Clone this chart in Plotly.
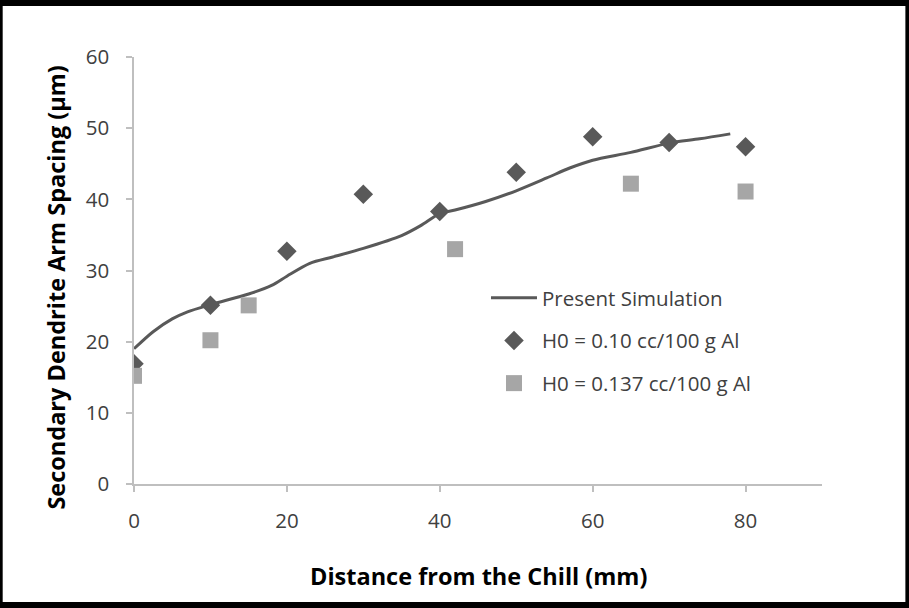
import plotly.graph_objects as go

# Data
sim_x = [0, 2.5, 5, 7, 10, 15, 18, 20, 23, 26, 30, 35, 37.5, 40, 42, 46, 50, 54, 57, 60, 65, 70, 74, 78]
sim_y = [19.0, 21.4, 23.2, 24.2, 25.2, 26.7, 27.9, 29.2, 31.0, 31.9, 33.1, 34.9, 36.3, 38.0, 38.5, 39.7,
         41.2, 43.0, 44.4, 45.5, 46.6, 47.9, 48.5, 49.2]

h010_x = [0, 10, 20, 30, 40, 50, 60, 70, 80]
h010_y = [16.9, 25.1, 32.7, 40.7, 38.3, 43.8, 48.8, 48.0, 47.4]

h0137_x = [0, 10, 15, 42, 65, 80]
h0137_y = [15.2, 20.2, 25.1, 33.0, 42.2, 41.1]

x_ticks = [0, 20, 40, 60, 80]
y_ticks = [0, 10, 20, 30, 40, 50, 60]

FONT = "Open Sans"
W, H = 909, 608
L, R, T, B = 133.5, 86.5, 57, 124
PW, PH = W - L - R, H - T - B


def px(xp):
    return (xp - L) / PW


def py(yp):
    return (H - B - yp) / PH


fig = go.Figure()
fig.add_trace(go.Scatter(
    x=sim_x, y=sim_y, mode="lines", name="Present Simulation",
    line=dict(color="#595959", width=3, shape="spline", smoothing=0.8),
    legendgroup="a"))
fig.add_trace(go.Scatter(
    x=h010_x, y=h010_y, mode="markers", name="H0 = 0.10 cc/100 g Al",
    marker=dict(symbol="diamond", size=15, color="#595959"),
    legendgroup="b"))
fig.add_trace(go.Scatter(
    x=h0137_x, y=h0137_y, mode="markers", name="H0 = 0.137 cc/100 g Al",
    marker=dict(symbol="square", size=16, color="#a6a6a6"),
    legendgroup="c"))

axis_common = dict(
    showgrid=False, zeroline=False, showline=True, linecolor="#bfbfbf", linewidth=1.5,
    ticks="outside", tickcolor="#bfbfbf", ticklen=6, tickwidth=1.5,
    tickfont=dict(family=FONT, size=20.5, color="#404040"),
)

fig.update_layout(
    width=W, height=H,
    margin=dict(l=L, r=R, t=T, b=B),
    paper_bgcolor="black",
    plot_bgcolor="white",
    showlegend=True,
    legend=dict(
        x=px(486), y=py(278), xanchor="left", yanchor="top",
        font=dict(family=FONT, size=20.5, color="#404040"),
        bgcolor="rgba(0,0,0,0)", tracegroupgap=13, itemwidth=46,
    ),
    xaxis=dict(range=[0, 90], tickvals=x_ticks, ticklabelstandoff=12, **axis_common),
    yaxis=dict(range=[0, 60], tickvals=y_ticks, ticklabelstandoff=13, **axis_common),
    shapes=[dict(type="rect", xref="paper", yref="paper", layer="below",
                 x0=px(2), x1=px(906), y0=py(602), y1=py(6),
                 fillcolor="white", line=dict(width=0))],
    annotations=[
        dict(text="<b>Distance from the Chill (mm)</b>", xref="paper", yref="paper",
             x=px(479), y=py(576), xanchor="center", yanchor="middle", showarrow=False,
             font=dict(family=FONT, size=23.5, color="black")),
        dict(text="<b>Secondary Dendrite Arm Spacing (µm)</b>", xref="paper", yref="paper",
             x=px(55), y=py(288), xanchor="center", yanchor="middle", showarrow=False,
             textangle=-90, font=dict(family=FONT, size=23.5, color="black")),
    ],
)

fig.write_html("out.html")
